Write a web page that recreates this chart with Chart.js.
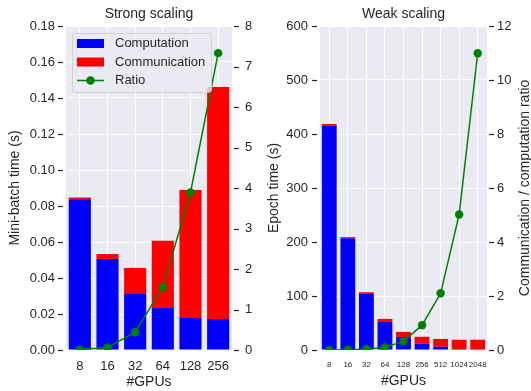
<!DOCTYPE html>
<html>
<head>
<meta charset="utf-8">
<script src="https://cdn.jsdelivr.net/npm/chart.js@4.4.0/dist/chart.umd.min.js"></script>
<style>
  html, body { margin: 0; padding: 0; background: #ffffff; }
  #wrap { position: relative; width: 531px; height: 391px; }
  canvas.panel { position: absolute; top: 0; }
</style>
</head>
<body>
<div id="wrap">
  <canvas id="strong" class="panel" style="left:0px" width="265" height="391"></canvas>
  <canvas id="weak" class="panel" style="left:265px" width="266" height="391"></canvas>
</div>
<script>
// Strong scaling: fixed global batch, time per mini-batch (s)
const strongGpus = ['8', '16', '32', '64', '128', '256'];
const strongComputation = [0.0837, 0.0506, 0.0311, 0.0233, 0.0178, 0.0172];
const strongCommunication = [0.0010, 0.0027, 0.0145, 0.0374, 0.0711, 0.1289];
const strongRatio = [0.01, 0.06, 0.44, 1.55, 3.89, 7.33];

// Weak scaling: fixed per-GPU batch, time per epoch (s)
const weakGpus = ['8', '16', '32', '64', '128', '256', '512', '1024', '2048'];
const weakComputation = [415, 207, 104, 52, 24, 12, 6, 2, 0.8];
const weakCommunication = [3.5, 2, 3, 5.5, 9.5, 12.5, 14.5, 17, 18.2];
const weakRatio = [0.0, 0.01, 0.03, 0.10, 0.32, 0.92, 2.1, 5.02, 10.99];

const INK = '#262626';
const PANEL_BG = '#EAEAF2';
const FONT = "'Liberation Sans', Arial, Helvetica, sans-serif";
Chart.defaults.font.family = FONT;
Chart.defaults.color = INK;

// Grey plotting background behind grid and bars
const panelBackground = {
  id: 'panelBackground',
  beforeDraw(chart) {
    const { ctx, chartArea: a } = chart;
    ctx.save();
    ctx.fillStyle = PANEL_BG;
    ctx.fillRect(a.left, a.top, a.right - a.left, a.bottom - a.top);
    ctx.restore();
  }
};

// Short outward tick dashes, set slightly apart from the plot edge,
// plus the right-hand axis label, which reads bottom-to-top
const axisDecor = {
  id: 'axisDecor',
  afterDraw(chart, args, opts) {
    const { ctx, chartArea: a } = chart;
    ctx.save();
    ctx.strokeStyle = INK;
    ctx.lineWidth = 1.2;
    ['y', 'y1'].forEach(id => {
      const s = chart.scales[id];
      if (!s) return;
      s.ticks.forEach(t => {
        const py = Math.round(s.getPixelForValue(t.value)) + 0.5;
        ctx.beginPath();
        if (id === 'y') { ctx.moveTo(a.left - 8, py); ctx.lineTo(a.left - 3, py); }
        else { ctx.moveTo(a.right + 2, py); ctx.lineTo(a.right + 7, py); }
        ctx.stroke();
      });
    });
    if (opts.rightTitle) {
      ctx.translate(chart.width - 6, (a.top + a.bottom) / 2);
      ctx.rotate(-Math.PI / 2);
      ctx.fillStyle = INK;
      ctx.font = '14px ' + FONT;
      ctx.textAlign = 'center';
      ctx.textBaseline = 'middle';
      ctx.fillText(opts.rightTitle, 0, 0);
    }
    ctx.restore();
  }
};

// Framed legend in the upper-left corner of the plot
const cornerLegend = {
  id: 'cornerLegend',
  afterDatasetsDraw(chart, args, opts) {
    if (!opts.show) return;
    const { ctx, chartArea: a } = chart;
    const bx = a.left + 6, by = a.top + 7, bw = 139, bh = 59;
    ctx.save();
    ctx.beginPath();
    ctx.roundRect(bx + 0.5, by + 0.5, bw, bh, 3);
    ctx.fillStyle = 'rgba(234,234,242,0.8)';
    ctx.fill();
    ctx.strokeStyle = 'rgba(204,204,204,0.8)';
    ctx.lineWidth = 1;
    ctx.stroke();
    ctx.font = '13px ' + FONT;
    ctx.textBaseline = 'middle';
    ctx.textAlign = 'left';
    chart.data.datasets.forEach((ds, i) => {
      const cy = by + 10.5 + i * 18.5;
      const hx = bx + 5, hw = 27;
      if (ds.type === 'line') {
        ctx.strokeStyle = ds.borderColor;
        ctx.lineWidth = ds.borderWidth;
        ctx.beginPath(); ctx.moveTo(hx, cy); ctx.lineTo(hx + hw, cy); ctx.stroke();
        ctx.fillStyle = ds.pointBackgroundColor;
        ctx.beginPath(); ctx.arc(hx + hw / 2, cy, ds.pointRadius, 0, Math.PI * 2); ctx.fill();
      } else {
        ctx.fillStyle = ds.backgroundColor;
        ctx.fillRect(hx, cy - 4.5, hw, 9);
      }
      ctx.fillStyle = INK;
      ctx.fillText(ds.label, bx + 43, cy);
    });
    ctx.restore();
  }
};

function makePanel(el, p) {
  return new Chart(document.getElementById(el), {
    data: {
      labels: p.labels,
      datasets: [
        { type: 'bar', label: 'Computation', data: p.comp, backgroundColor: '#0000FF',
          yAxisID: 'y', stack: 'time', order: 1, barPercentage: 0.8, categoryPercentage: 1.0 },
        { type: 'bar', label: 'Communication', data: p.comm, backgroundColor: '#FF0000',
          yAxisID: 'y', stack: 'time', order: 1, barPercentage: 0.8, categoryPercentage: 1.0 },
        { type: 'line', label: 'Ratio', data: p.ratio, borderColor: '#008000', borderWidth: 1.5,
          pointBackgroundColor: '#008000', pointBorderColor: '#008000', pointRadius: 4.2,
          pointBorderWidth: 0, tension: 0, yAxisID: 'y1', order: 0 }
      ]
    },
    options: {
      responsive: false,
      animation: false,
      devicePixelRatio: 1,
      layout: { padding: 0 },
      plugins: {
        legend: { display: false },
        tooltip: { enabled: false },
        title: { display: true, text: p.title, fullSize: false, color: INK,
                 font: { size: 14, weight: 'normal' }, padding: { top: 5.6, bottom: 3.6 } },
        cornerLegend: { show: p.legend },
        axisDecor: { rightTitle: p.y1Title || '' }
      },
      scales: {
        x: {
          stacked: true,
          offset: true,
          grid: { color: '#FFFFFF', lineWidth: 1, offset: false, drawTicks: false },
          border: { display: false },
          ticks: { autoSkip: false, maxRotation: 0, minRotation: 0, padding: p.xPad,
                   font: { size: p.xFont }, color: INK },
          title: { display: true, text: '#GPUs', color: INK, font: { size: 14 },
                   padding: { top: 0, bottom: p.xTitlePad } },
          afterFit(s) { s.height = 41; }
        },
        y: {
          position: 'left',
          stacked: true,
          min: 0, max: p.yMax,
          grid: { color: '#FFFFFF', lineWidth: 1, drawTicks: false },
          border: { display: false },
          ticks: { stepSize: p.yStep, padding: p.yPad, font: { size: 13 }, color: INK,
                   callback: v => v.toFixed(p.yDec) },
          title: { display: true, text: p.yTitle, color: INK, font: { size: 14 },
                   padding: { top: p.yTitlePad, bottom: 0 } },
          afterFit(s) { s.width = p.leftW; }
        },
        y1: {
          position: 'right',
          min: 0, max: p.y1Max,
          grid: { display: false, drawTicks: false },
          border: { display: false },
          ticks: { stepSize: p.y1Step, padding: p.y1Pad, font: { size: 13 }, color: INK },
          afterFit(s) { s.width = p.rightW; }
        }
      }
    },
    plugins: [panelBackground, axisDecor, cornerLegend]
  });
}

makePanel('strong', {
  title: 'Strong scaling', labels: strongGpus,
  comp: strongComputation, comm: strongCommunication, ratio: strongRatio,
  yMax: 0.18, yStep: 0.02, yDec: 2, y1Max: 8, y1Step: 1,
  yTitle: 'Mini-batch time (s)', yTitlePad: 7,
  leftW: 66, rightW: 33, yPad: 11, y1Pad: 13,
  xPad: 9, xFont: 13, xTitlePad: 0, legend: true
});

makePanel('weak', {
  title: 'Weak scaling', labels: weakGpus,
  comp: weakComputation, comm: weakCommunication, ratio: weakRatio,
  yMax: 600, yStep: 100, yDec: 0, y1Max: 12, y1Step: 2,
  yTitle: 'Epoch time (s)', yTitlePad: 1,
  y1Title: 'Communication / computation ratio',
  leftW: 55, rightW: 44, yPad: 12, y1Pad: 10,
  xPad: 10, xFont: 8, xTitlePad: 1.5, legend: false
});
</script>
</body>
</html>
